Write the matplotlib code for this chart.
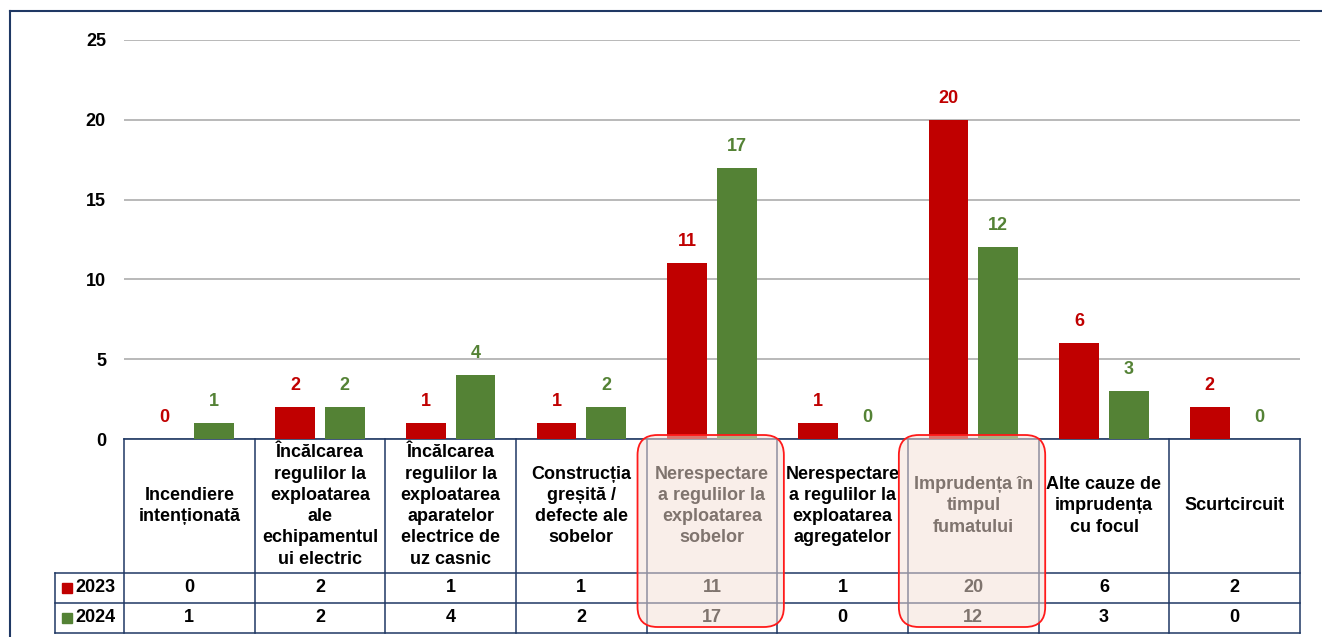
import matplotlib
matplotlib.use("Agg")
import matplotlib.pyplot as plt
import matplotlib.transforms as mtransforms
from matplotlib.patches import Rectangle, FancyBboxPatch
from matplotlib.lines import Line2D
import numpy as np

plt.rcParams['font.family'] = ['Liberation Sans', 'DejaVu Sans']
plt.rcParams['font.weight'] = 'bold'

# data
categories = [
    "Incendiere\nintenționată",
    "Încălcarea\nregulilor la\nexploatarea\nale\nechipamentul\nui electric",
    "Încălcarea\nregulilor la\nexploatarea\naparatelor\nelectrice de\nuz casnic",
    "Construcția\ngreșită /\ndefecte ale\nsobelor",
    "Nerespectare\na regulilor la\nexploatarea\nsobelor",
    "Nerespectare\na regulilor la\nexploatarea\nagregatelor",
    "Imprudența în\ntimpul\nfumatului",
    "Alte cauze de\nimprudența\ncu focul",
    "Scurtcircuit",
]
years = ["2023", "2024"]
values_2023 = [0, 2, 1, 1, 11, 1, 20, 6, 2]
values_2024 = [1, 2, 4, 2, 17, 0, 12, 3, 0]
highlighted = [4, 6]

red = "#C00000"
green = "#548235"
navy = "#1F3864"
fs = 13

W, H = 1322, 637
fig = plt.figure(figsize=(W / 100, H / 100), dpi=100)
fig.patch.set_facecolor("white")

# plot area in pixels
left, right, top, bottom = 124, 1300, 40, 439
ax = fig.add_axes([left / W, (H - bottom) / H, (right - left) / W, (bottom - top) / H])

x = np.arange(len(categories))
off = 0.19
bw = 0.305
b1 = ax.bar(x - off, values_2023, bw, color=red, zorder=3)
b2 = ax.bar(x + off, values_2024, bw, color=green, zorder=3)

for bars, vals, col in [(b1, values_2023, red), (b2, values_2024, green)]:
    for rect, v in zip(bars, vals):
        ax.annotate(str(v), (rect.get_x() + rect.get_width() / 2, v),
                    xytext=(0, 15.5), textcoords="offset points",
                    ha="center", va="center", color=col,
                    fontsize=fs, fontweight="bold")

ax.set_xlim(-0.5, len(categories) - 0.5)
ax.set_ylim(0, 25)
ax.set_yticks(range(0, 26, 5))
ax.tick_params(axis="y", length=0, pad=13, labelsize=fs)
ax.set_xticks([])
ax.grid(axis="y", color="#A6A6A6", linewidth=1.1, zorder=0)
for s in ["top", "right", "left"]:
    ax.spines[s].set_visible(False)
ax.spines["bottom"].set_color(navy)
ax.spines["bottom"].set_linewidth(1.2)

# table below axis
tr = mtransforms.blended_transform_factory(ax.transData, ax.transAxes)
ppu = (right - left) / len(categories)


def yf(py):
    return (bottom - py) / (bottom - top)


def xd(px):
    return -0.5 + (px - left) / ppu


y_head, y_r1, y_r2 = yf(573), yf(603), yf(633)
x_lab = xd(55)
ln = dict(color=navy, linewidth=1.1, transform=tr, clip_on=False)

for i in range(len(categories) + 1):
    ax.add_line(Line2D([i - 0.5, i - 0.5], [0, y_r2], **ln))
ax.add_line(Line2D([x_lab, x_lab], [y_head, y_r2], **ln))
for yy in [y_head, y_r1, y_r2]:
    ax.add_line(Line2D([x_lab, len(categories) - 0.5], [yy, yy], **ln))

for i, c in enumerate(categories):
    ax.text(i, (0 + y_head) / 2, c, transform=tr, ha="center", va="center",
            fontsize=fs, fontweight="bold", linespacing=1.33, clip_on=False)
    ax.text(i, (y_head + y_r1) / 2, str(values_2023[i]), transform=tr,
            ha="center", va="center", fontsize=fs, fontweight="bold")
    ax.text(i, (y_r1 + y_r2) / 2, str(values_2024[i]), transform=tr,
            ha="center", va="center", fontsize=fs, fontweight="bold")

sq_w, sq_h = 10 / ppu, 10 / (bottom - top)
for yr, col, (ya, yb) in zip(years, [red, green], [(y_head, y_r1), (y_r1, y_r2)]):
    ym = (ya + yb) / 2
    ax.add_patch(Rectangle((xd(62), ym - sq_h / 2), sq_w, sq_h, color=col,
                           transform=tr, clip_on=False))
    ax.text(xd(75), ym, yr, transform=tr, ha="left", va="center",
            fontsize=fs, fontweight="bold")

# highlight boxes, drawn in inches so the corners stay round
inv = fig.dpi_scale_trans.inverted()
for i in highlighted:
    p0 = inv.transform(tr.transform((i - 0.5 - 0.07, y_r2 + 6 / 399)))
    p1 = inv.transform(tr.transform((i + 0.5 + 0.05, 0.01)))
    pad = 0.2
    box = FancyBboxPatch((p0[0] + pad, p0[1] + pad), p1[0] - p0[0] - 2 * pad,
                         p1[1] - p0[1] - 2 * pad,
                         boxstyle="round,pad=%.2f" % pad,
                         transform=fig.dpi_scale_trans,
                         facecolor=(245 / 255, 223 / 255, 213 / 255, 0.52),
                         edgecolor="#FF1A1A", linewidth=1.3, zorder=10)
    fig.add_artist(box)

# outer frame
fig.add_artist(Line2D([10 / W, 10 / W], [0, (H - 11) / H], color=navy, linewidth=1.5))
fig.add_artist(Line2D([10 / W, 1], [(H - 11) / H, (H - 11) / H], color=navy, linewidth=1.5))

fig.savefig("out.png", dpi=100)
